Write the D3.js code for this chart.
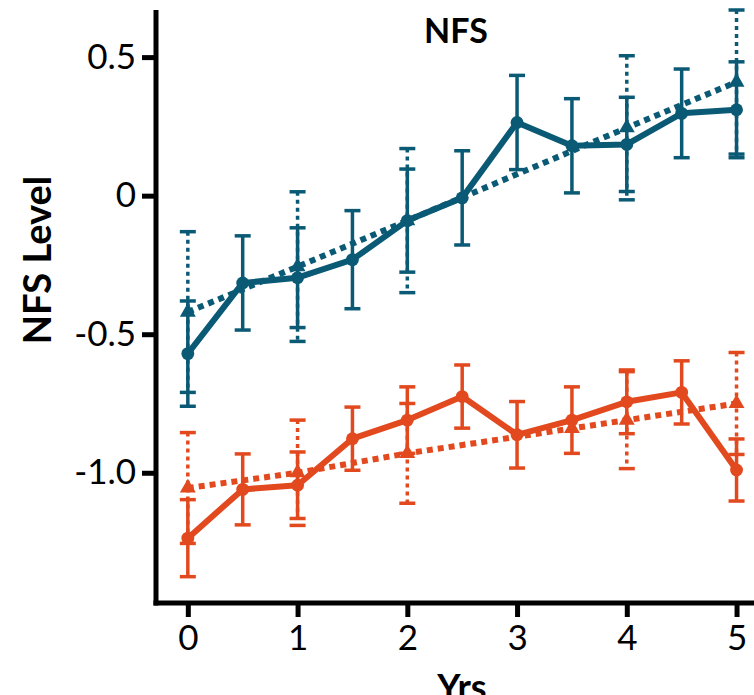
<!DOCTYPE html>
<html>
<head>
<meta charset="utf-8">
<script src="https://cdn.jsdelivr.net/npm/d3@7"></script>
<style>
  body { margin: 0; background: #fff; }
  svg { display: block; }
</style>
</head>
<body>
<div id="chart"></div>
<script>
// data
var years = [0, 0.5, 1, 1.5, 2, 2.5, 3, 3.5, 4, 4.5, 5];
var blueSolid = [-0.57, -0.315, -0.296, -0.231, -0.09, -0.008, 0.264, 0.18, 0.185, 0.297, 0.31];
var blueSolidErr = [0.19, 0.17, 0.18, 0.177, 0.186, 0.17, 0.17, 0.17, 0.17, 0.16, 0.173];
var blueTrendYears = [0, 1, 2, 4, 5];
var blueTrend = [-0.42, -0.256, -0.09, 0.245, 0.41];
var blueTrendErr = [0.29, 0.27, 0.26, 0.26, 0.26];

var orangeSolid = [-1.236, -1.06, -1.045, -0.877, -0.81, -0.725, -0.863, -0.81, -0.744, -0.71, -0.99];
var orangeSolidErr = [0.139, 0.128, 0.12, 0.114, 0.12, 0.114, 0.12, 0.12, 0.115, 0.114, 0.112];
var orangeTrendYears = [0, 1, 2, 3.5, 4, 5];
var orangeTrend = [-1.055, -1.0, -0.93, -0.84, -0.81, -0.75];
var orangeTrendErr = [0.2, 0.19, 0.18, null, 0.175, 0.184];

var xTicks = [0, 1, 2, 3, 4, 5];
var xTickLabels = ["0", "1", "2", "3", "4", "5"];
var yTicks = [0.5, 0, -0.5, -1.0];
var yTickLabels = ["0.5", "0", "-0.5", "-1.0"];

var drawChart = function() {
    var width = 754, height = 695;
    var fontFamily = "Lato, 'Open Sans', sans-serif";
    var blue = "#0b5a75";
    var orange = "#e2491e";

    var svg = d3.select("#chart").append("svg")
        .attr("width", width)
        .attr("height", height);

    var x = d3.scaleLinear().domain([-0.29, 5.15]).range([156, 753]);
    var y = d3.scaleLinear().domain([-1.47, 0.67]).range([603, 10]);

    // axes
    var xAxis = svg.append("g")
        .attr("transform", "translate(0," + y.range()[0] + ")")
        .call(d3.axisBottom(x).tickValues(xTicks).tickSize(14).tickSizeOuter(0).tickPadding(8)
            .tickFormat(function(d, i) { return xTickLabels[i]; }));
    var yAxis = svg.append("g")
        .attr("transform", "translate(" + x.range()[0] + ",0)")
        .call(d3.axisLeft(y).tickValues(yTicks).tickSize(14).tickSizeOuter(0).tickPadding(6)
            .tickFormat(function(d, i) { return yTickLabels[i]; }));

    [xAxis, yAxis].forEach(function(a) {
        a.select(".domain").attr("stroke", "#000").attr("stroke-width", 5);
        a.selectAll(".tick line").attr("stroke", "#000").attr("stroke-width", 5);
        a.selectAll(".tick text")
            .attr("fill", "#000")
            .attr("font-family", fontFamily)
            .attr("font-size", 35);
    });
    // extend domain lines so they meet at the corner
    xAxis.select(".domain").attr("d", "M" + (x.range()[0] - 2.5) + ",0H" + width);
    yAxis.select(".domain").attr("d", "M0," + y.range()[1] + "V" + (y.range()[0] + 2.5));

    var plot = svg.append("g");

    function drawErrors(xs, vals, errs, color, dotted) {
        var g = plot.append("g")
            .attr("stroke", color)
            .attr("stroke-width", 3.5)
            .attr("fill", "none");
        xs.forEach(function(xv, i) {
            if (errs[i] == null) return;
            var cx = x(xv), top = y(vals[i] + errs[i]), bot = y(vals[i] - errs[i]);
            g.append("line")
                .attr("x1", cx).attr("x2", cx)
                .attr("y1", top).attr("y2", bot)
                .attr("stroke-dasharray", dotted ? "4,4" : null);
            [top, bot].forEach(function(cy) {
                g.append("line")
                    .attr("x1", cx - 8).attr("x2", cx + 8)
                    .attr("y1", cy).attr("y2", cy);
            });
        });
    }

    function drawLine(xs, vals, color, dotted) {
        var line = d3.line()
            .x(function(d, i) { return x(xs[i]); })
            .y(function(d) { return y(d); });
        plot.append("path")
            .datum(vals)
            .attr("d", line)
            .attr("fill", "none")
            .attr("stroke", color)
            .attr("stroke-width", 6)
            .attr("stroke-linejoin", "round")
            .attr("stroke-dasharray", dotted ? "6,5" : null);
    }

    function drawMarkers(xs, vals, color, shape) {
        var sym = d3.symbol().type(shape).size(shape === d3.symbolTriangle ? 110 : 130);
        plot.append("g").selectAll("path")
            .data(vals)
            .join("path")
            .attr("d", sym)
            .attr("transform", function(d, i) { return "translate(" + x(xs[i]) + "," + y(d) + ")"; })
            .attr("fill", color);
    }

    // trend series (dotted) underneath
    drawErrors(blueTrendYears, blueTrend, blueTrendErr, blue, true);
    drawErrors(orangeTrendYears, orangeTrend, orangeTrendErr, orange, true);
    drawLine(blueTrendYears, blueTrend, blue, true);
    drawLine(orangeTrendYears, orangeTrend, orange, true);
    drawMarkers(blueTrendYears, blueTrend, blue, d3.symbolTriangle);
    drawMarkers(orangeTrendYears, orangeTrend, orange, d3.symbolTriangle);

    // observed series (solid)
    drawErrors(years, blueSolid, blueSolidErr, blue, false);
    drawErrors(years, orangeSolid, orangeSolidErr, orange, false);
    drawLine(years, blueSolid, blue, false);
    drawLine(years, orangeSolid, orange, false);
    drawMarkers(years, blueSolid, blue, d3.symbolCircle);
    drawMarkers(years, orangeSolid, orange, d3.symbolCircle);

    // titles
    svg.append("text")
        .attr("x", 456).attr("y", 43)
        .attr("text-anchor", "middle")
        .attr("font-family", fontFamily)
        .attr("font-weight", "bold")
        .attr("font-size", 34)
        .text("NFS");
    svg.append("text")
        .attr("x", 462).attr("y", 700)
        .attr("text-anchor", "middle")
        .attr("font-family", fontFamily)
        .attr("font-weight", "bold")
        .attr("font-size", 36)
        .text("Yrs");
    svg.append("text")
        .attr("transform", "translate(51,260) rotate(-90)")
        .attr("text-anchor", "middle")
        .attr("font-family", fontFamily)
        .attr("font-weight", "bold")
        .attr("font-size", 38)
        .text("NFS Level");
}

window.addEventListener("load", drawChart);
</script>
</body>
</html>
